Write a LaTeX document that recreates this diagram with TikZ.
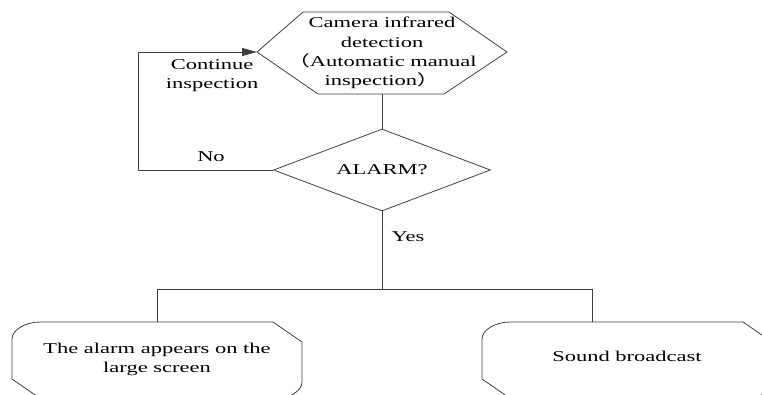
\documentclass[tikz,border=0pt]{standalone}
\usepackage{fontspec}
\usepackage{graphicx}
\setmainfont{Liberation Serif}
\newfontfamily\cjk{Noto Sans CJK SC}
\usetikzlibrary{arrows.meta,shapes.geometric}
\newcommand{\W}[1]{\scalebox{1.5}[1]{\begin{tabular}{@{}c@{}}#1\end{tabular}}}
\tikzset{
  line/.style={draw=black!75, line width=0.8pt},
  txt/.style={font=\fontsize{15}{19.3}\selectfont, align=center, inner sep=0pt, text=black},
  arrowhead/.style={-{Triangle[length=15pt,width=8pt]}},
}
\newcommand{\termbox}[4]{% x0 x1 y0 y1
  \draw[line] (#1+28,#3) -- (#2-29,#3) -- (#2,#3+20) -- (#2,#4-17)
    .. controls (#2,#4-8) and (#2-13,#4) .. (#2-28,#4)
    -- (#1+29,#4) -- (#1,#4-20) -- (#1,#3+17)
    .. controls (#1,#3+8) and (#1+13,#3) .. (#1+28,#3) -- cycle;
}
\begin{document}
\begin{tikzpicture}[x=1pt,y=-1pt]
\useasboundingbox (0,0) rectangle (762,394);
% hexagon
\coordinate (hexL) at (257,52);
\coordinate (hexB) at (382,94);
\draw[line] (303,12) -- (449,12) -- (507,52) -- (444,94) -- (318,94) -- (hexL) -- cycle;
\node[txt] (hex) at (382,53) {\W{Camera infrared\\detection\\{\cjk （}Automatic manual\\inspection{\cjk ）}}};
% diamond
\node[line, diamond, shape aspect=2.65, minimum width=217pt, minimum height=82pt, inner sep=0pt] (dia) at (382,170) {};
\node[txt] (alarm) at (382,171) {\W{ALARM?}};
\draw[line] (hexB) -- (dia.north);
% loop back
\coordinate (lc) at (138,52);
\draw[line, arrowhead] (dia.west) -| (lc) -- (hexL);
\node[txt] (no) at (211,158) {\W{No}};
\node[txt] (cont) at (212,75) {\W{Continue\\inspection}};
% yes branch
\coordinate (jn) at (382,289);
\coordinate (ltop) at (157,322);
\coordinate (rtop) at (592,322);
\draw[line] (dia.south) -- (jn);
\draw[line] (ltop) -- (ltop |- jn) -- (rtop |- jn) -- (rtop);
\node[txt] (yes) at (408,238) {\W{Yes}};
% terminal boxes
\termbox{12}{302}{322}{399}
\termbox{482}{772}{322}{399}
\node[txt] (screen) at (157,359) {\W{The alarm appears on the\\large screen}};
\node[txt] (sound) at (627,358) {\W{Sound broadcast}};
\end{tikzpicture}
\end{document}
